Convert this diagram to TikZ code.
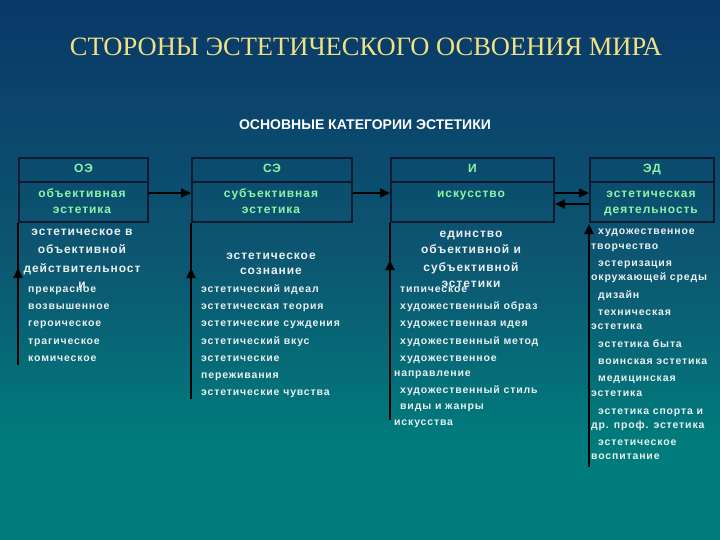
\documentclass[tikz,border=0pt]{standalone}
\usepackage{fontspec}
\setmainfont{Liberation Sans}
\newfontfamily\titlefont{Liberation Serif}
\newfontfamily\boldsp[LetterSpace=8]{Liberation Sans Bold}
\usetikzlibrary{arrows.meta}
\definecolor{bgtop}{RGB}{10,56,104}
\definecolor{bgmid}{RGB}{12,88,114}
\definecolor{bgbot}{RGB}{0,124,124}
\definecolor{titlecol}{RGB}{240,226,130}
\definecolor{greentext}{RGB}{140,245,165}
\definecolor{boxline}{RGB}{15,25,48}
\definecolor{itemcol}{RGB}{235,240,240}
\tikzset{
  hdr/.style={draw=boxline, line width=2pt, anchor=north west, minimum height=24pt, inner sep=0pt},
  bdy/.style={draw=boxline, line width=2pt, anchor=north west, minimum height=40pt, inner sep=0pt},
  gtxt/.style={text=greentext, font=\boldsp\fontsize{12}{14}\selectfont, inner sep=0pt, text height=8.5pt, text depth=2.5pt},
  wtxt/.style={text=itemcol, font=\boldsp\fontsize{12}{14}\selectfont, inner sep=0pt, text height=8.5pt, text depth=2.5pt},
  item/.style={text=itemcol, font=\boldsp\fontsize{10.5}{12}\selectfont, inner sep=0pt, anchor=west, text height=7.5pt, text depth=2pt},
  arr/.style={draw=black, line width=1.8pt, -{Triangle[length=10pt,width=9pt]}},
  ln/.style={draw=black, line width=1.8pt}
}
\begin{document}
\begin{tikzpicture}[x=1pt,y=-1pt]
\useasboundingbox (0,0) rectangle (720,540);
\shade[top color=bgtop, bottom color=bgmid] (0,0) rectangle (720,270);
\shade[top color=bgmid, bottom color=bgbot] (0,270) rectangle (720,445);
\fill[bgbot] (0,445) rectangle (720,540);

\node[text=titlecol, font=\titlefont\fontsize{26.5}{30}\selectfont, inner sep=0pt] (title) at (366,47) {СТОРОНЫ ЭСТЕТИЧЕСКОГО ОСВОЕНИЯ МИРА};
\node[text=white, font=\fontsize{14}{16}\selectfont\bfseries, inner sep=0pt] (sub) at (365,125) {ОСНОВНЫЕ КАТЕГОРИИ ЭСТЕТИКИ};

% boxes
\node[hdr, minimum width=129pt] (h1) at (18,157) {};
\node[bdy, minimum width=129pt] (b1) at (18,181) {};
\node[hdr, minimum width=160pt] (h2) at (191,157) {};
\node[bdy, minimum width=160pt] (b2) at (191,181) {};
\node[hdr, minimum width=163pt] (h3) at (390,157) {};
\node[bdy, minimum width=163pt] (b3) at (390,181) {};
\node[hdr, minimum width=124pt] (h4) at (589,157) {};
\node[bdy, minimum width=124pt] (b4) at (589,181) {};

\node[gtxt] (h1t) at (h1.center) {ОЭ};
\node[gtxt] (h2t) at (h2.center) {СЭ};
\node[gtxt] (h3t) at (h3.center) {И};
\node[gtxt] (h4t) at (h4.center) {ЭД};

\node[gtxt] (b1a) at (82,194) {объективная};
\node[gtxt] (b1b) at (82,211) {эстетика};
\node[gtxt] (b2a) at (271,194) {субъективная};
\node[gtxt] (b2b) at (271,211) {эстетика};
\node[gtxt] (b3a) at (471,194) {искусство};
\node[gtxt] (b4a) at (651,194) {эстетическая};
\node[gtxt] (b4b) at (651,211) {деятельность};

% horizontal arrows
\draw[arr] ([yshift=9pt]b1.east) -- ([yshift=9pt]b2.west);
\draw[arr] ([yshift=9pt]b2.east) -- ([yshift=9pt]b3.west);
\draw[arr] ([yshift=9pt]b3.east) -- ([yshift=9pt]b4.west);
\draw[arr] ([yshift=-2pt]b4.west) -- ([yshift=-2pt]b3.east);

% vertical arrows
\coordinate (e1) at (18,365); \coordinate (t1) at (18,268);
\coordinate (e2) at (191,399); \coordinate (t2) at (191,268);
\coordinate (e3) at (390,420); \coordinate (t3) at (390,260);
\coordinate (e4) at (589,467); \coordinate (t4) at (589,224);
\draw[ln] (b1.south west) -- (e1);
\draw[arr] (e1) -- (t1);
\draw[ln] (b2.south west) -- (e2);
\draw[arr] (e2) -- (t2);
\draw[ln] (b3.south west) -- (e3);
\draw[arr] (e3) -- (t3);
\draw[arr] (e4) -- (t4);

% column 1 texts
\node[wtxt] (c1a) at (82,233) {эстетическое в};
\node[wtxt] (c1b) at (82,251) {объективной};
\node[wtxt] (c1c) at (82,269) {действительност};
\node[wtxt] (c1d) at (82,285) {и};
\foreach \y/\t [count=\i] in {290/прекрасное,307/возвышенное,324/героическое,342/трагическое,359/комическое}
  \node[item] (l1-\i) at (28,\y) {\t};

% column 2 texts
\node[wtxt] (c2a) at (271,256) {эстетическое};
\node[wtxt] (c2b) at (271,271) {сознание};
\foreach \y/\t [count=\i] in {290/эстетический идеал,307/эстетическая теория,324/эстетические суждения,342/эстетический вкус,359/эстетические,376/переживания,393/эстетические чувства}
  \node[item] (l2-\i) at (201,\y) {\t};

% column 3 texts
\node[wtxt] (c3a) at (471,234) {единство};
\node[wtxt] (c3b) at (471,251) {объективной и};
\node[wtxt] (c3c) at (471,268) {субъективной};
\node[wtxt] (c3d) at (471,284) {эстетики};
\foreach \x/\y/\t [count=\i] in {400/290/типическое,400/307/художественный образ,400/324/художественная идея,400/342/художественный метод,400/359/художественное,394/374/направление,400/391/художественный стиль,400/407/виды и жанры,394/423/искусства}
  \node[item] (l3-\i) at (\x,\y) {\t};

% column 4 texts
\foreach \x/\y/\t [count=\i] in {598/232/художественное,591/247/творчество,598/264/эстеризация,591/278/окружающей среды,598/296/дизайн,598/313/техническая,591/327/эстетика,598/345/эстетика быта,598/362/воинская эстетика,598/379/медицинская,591/394/эстетика,598/412/эстетика спорта и,591/426/др. проф. эстетика,598/443/эстетическое,591/457/воспитание}
  \node[item] (l4-\i) at (\x,\y) {\t};
\end{tikzpicture}
\end{document}
